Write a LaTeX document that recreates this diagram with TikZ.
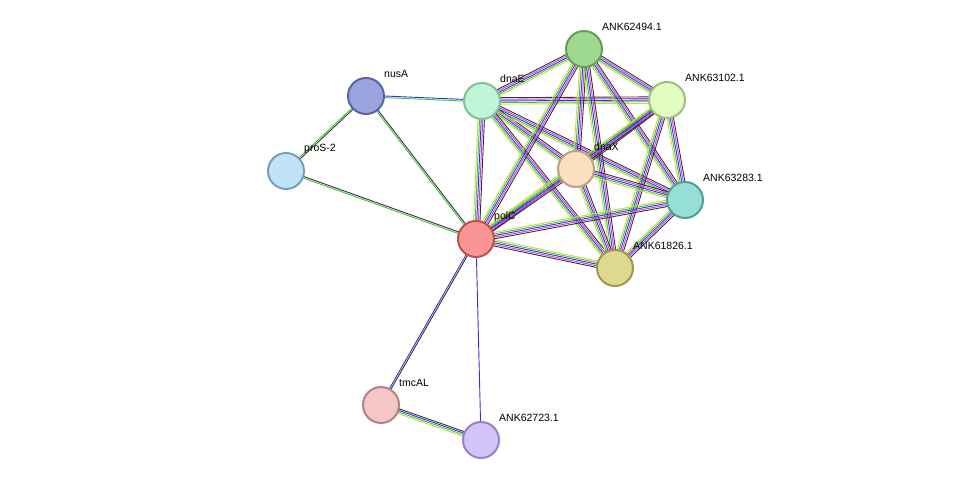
\documentclass[tikz,border=0pt]{standalone}
\usepackage{fontspec}
\setmainfont{Liberation Sans}
\usetikzlibrary{calc}
\definecolor{cyel}{HTML}{C8D84A}
\definecolor{cgrn}{HTML}{3CC43C}
\definecolor{cblu}{HTML}{3333DD}
\definecolor{cmag}{HTML}{D63CD6}
\definecolor{cblk}{HTML}{333333}
\tikzset{
  prot/.style={circle, draw, line width=2pt, minimum size=36pt, inner sep=0pt},
  lab/.style={anchor=west, font=\fontsize{10.5}{12}\selectfont, inner sep=0pt},
}
% parallel stripes: list of colour/offset
\newcommand\lnk[3]{%
  \foreach \c/\o in {#3}{\draw[\c, line width=0.9pt]
    ($(#1)!\o pt!90:(#2)$) -- ($(#2)!\o pt!-90:(#1)$);}}
\begin{document}
\begin{tikzpicture}[x=1pt, y=-1pt]
  \useasboundingbox (0,0) rectangle (975,486);
  % positions
  \foreach \n/\x/\y in {p62494/584/49, nusA/366/96, dnaE/482/101, p63102/667/100,
      proS/286/171, dnaX/576/169, p63283/685/200, polC/476/239,
      p61826/615/268, tmcAL/381/405, p62723/481/440}
    \coordinate (\n) at (\x,\y);
  % core cluster
  \foreach \a/\b in {dnaE/p62494, dnaE/p63102, dnaE/dnaX, dnaE/p63283, dnaE/p61826,
      dnaE/polC, p62494/p63102, p62494/dnaX, p62494/p63283, p62494/p61826,
      p62494/polC, p63102/dnaX, p63102/p63283, p63102/p61826, p63102/polC,
      dnaX/p63283, dnaX/p61826, dnaX/polC, p63283/p61826, p63283/polC, p61826/polC}
    \lnk{\a}{\b}{cyel/-3.2, cgrn/-1.6, cblu/0, cmag/1.6, cblk/3.2};
  % other links
  \lnk{nusA}{proS}{cgrn/-0.8, cblk/0.8}
  \lnk{nusA}{polC}{cgrn/-0.8, cblk/0.8}
  \lnk{proS}{polC}{cgrn/-0.8, cblk/0.8}
  \lnk{nusA}{dnaE}{cgrn/-0.8, cblu/0.8}
  \lnk{polC}{tmcAL}{cblu/-0.8, cblk/0.8}
  \lnk{polC}{p62723}{cblu/0}
  \lnk{tmcAL}{p62723}{cyel/-2.4, cgrn/-0.8, cblu/0.8, cblk/2.4}
  % proteins
  \node[prot, fill={rgb,255:red,158;green,217;blue,143}, draw={rgb,255:red,100;green,160;blue,90}] (n62494) at (p62494) {};
  \node[prot, fill={rgb,255:red,154;green,165;blue,224}, draw={rgb,255:red,90;green,100;blue,160}] (nnusA) at (nusA) {};
  \node[prot, fill={rgb,255:red,192;green,245;blue,215}, draw={rgb,255:red,130;green,190;blue,150}] (ndnaE) at (dnaE) {};
  \node[prot, fill={rgb,255:red,226;green,253;blue,192}, draw={rgb,255:red,160;green,190;blue,130}] (n63102) at (p63102) {};
  \node[prot, fill={rgb,255:red,192;green,227;blue,247}, draw={rgb,255:red,120;green,160;blue,190}] (nproS) at (proS) {};
  \node[prot, fill={rgb,255:red,253;green,224;blue,192}, draw={rgb,255:red,190;green,160;blue,130}] (ndnaX) at (dnaX) {};
  \node[prot, fill={rgb,255:red,150;green,223;blue,213}, draw={rgb,255:red,80;green,160;blue,150}] (n63283) at (p63283) {};
  \node[prot, fill={rgb,255:red,251;green,149;blue,149}, draw={rgb,255:red,190;green,80;blue,80}] (npolC) at (polC) {};
  \node[prot, fill={rgb,255:red,222;green,217;blue,143}, draw={rgb,255:red,160;green,150;blue,80}] (n61826) at (p61826) {};
  \node[prot, fill={rgb,255:red,245;green,198;blue,198}, draw={rgb,255:red,180;green,130;blue,130}] (ntmcAL) at (tmcAL) {};
  \node[prot, fill={rgb,255:red,210;green,196;blue,247}, draw={rgb,255:red,150;green,130;blue,200}] (n62723) at (p62723) {};
  % labels
  \foreach \n/\t in {n62494/ANK62494.1, nnusA/nusA, ndnaE/dnaE, n63102/ANK63102.1,
      nproS/proS-2, ndnaX/dnaX, n63283/ANK63283.1, npolC/polC,
      n61826/ANK61826.1, ntmcAL/tmcAL, n62723/ANK62723.1}
    \node[lab] at ([shift={(18,-22)}]\n.center) {\t};
\end{tikzpicture}
\end{document}
